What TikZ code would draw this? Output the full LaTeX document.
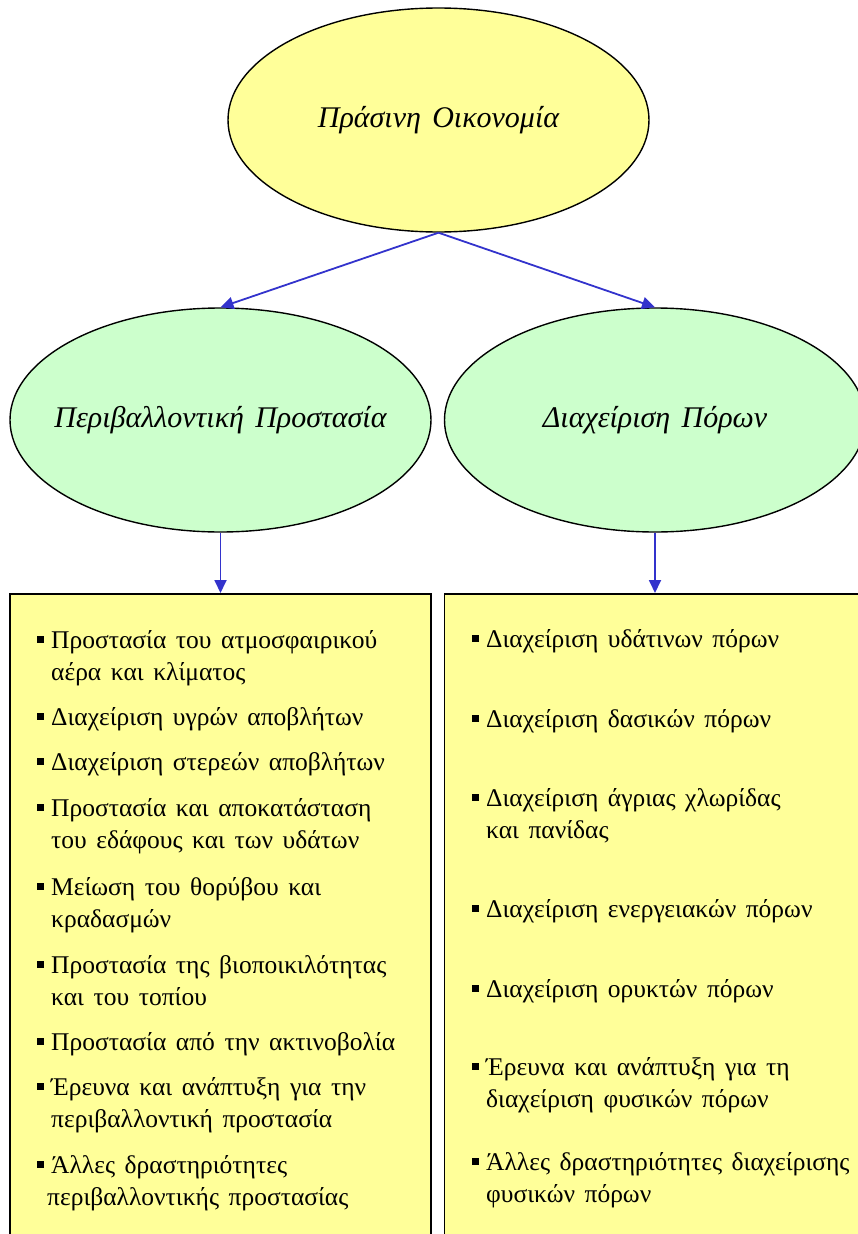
\documentclass[tikz,border=0pt]{standalone}
\usepackage{fontspec}
\setmainfont{Liberation Serif}[WordSpace=1.5]
\usepackage{tikz}
\usetikzlibrary{arrows.meta,shapes.geometric}

\definecolor{pYellow}{RGB}{255,255,153}
\definecolor{pGreen}{RGB}{204,255,204}
\definecolor{pBlue}{RGB}{51,51,204}

% small black square in front of each entry
\newcommand{\sqbul}{\makebox[0pt][r]{\rule[5pt]{7pt}{7pt}\hspace{7pt}}}

\begin{document}
\begin{tikzpicture}[x=1pt, y=-1pt,
    oval/.style={ellipse, draw=black, line width=1.4pt, minimum width=421pt,
      minimum height=224pt, inner xsep=-60pt, inner ysep=0pt,
      font=\fontsize{30}{34}\selectfont\itshape},
    listbox/.style={rectangle, draw=black, line width=1.6pt, fill=pYellow,
      minimum width=421pt, minimum height=700pt, anchor=north, inner sep=0pt},
    entry/.style={anchor=base west, inner sep=0pt, align=left,
      font=\fontsize{25.5}{32}\selectfont},
    flow/.style={pBlue, line width=1.8pt, -{Triangle[length=13pt,width=12pt]}}]
    \clip (0,0) rectangle (858,1234);

    % top level
    \node[oval, fill=pYellow] (green) at (438.5,120) {Πράσινη Οικονομία};

    % two branches
    \node[oval, fill=pGreen] (envprot) at (220.5,420) {Περιβαλλοντική Προστασία};
    \node[oval, fill=pGreen] (resmgmt) at (655,420) {Διαχείριση Πόρων};

    \draw[flow] (green.south) -- (envprot.north);
    \draw[flow] (green.south) -- (resmgmt.north);

    % the two lists
    \node[listbox] (envbox) at (220.5,593) {};
    \node[listbox] (resbox) at (655,593) {};

    \draw[flow] (envprot.south) -- (envbox.north);
    \draw[flow] (resmgmt.south) -- (resbox.north);

    % entries, left list (two-line entries sit on their last baseline)
    \node[entry] (e1) at (51,680) {\sqbul Προστασία του ατμοσφαιρικού\\αέρα και κλίματος};
    \node[entry] (e2) at (51,725) {\sqbul Διαχείριση υγρών αποβλήτων};
    \node[entry] (e3) at (51,770) {\sqbul Διαχείριση στερεών αποβλήτων};
    \node[entry] (e4) at (51,848) {\sqbul Προστασία και αποκατάσταση\\του εδάφους και των υδάτων};
    \node[entry] (e5) at (51,927) {\sqbul Μείωση του θορύβου και\\κραδασμών};
    \node[entry] (e6) at (51,1005) {\sqbul Προστασία της βιοποικιλότητας\\και του τοπίου};
    \node[entry] (e7) at (51,1050) {\sqbul Προστασία από την ακτινοβολία};
    \node[entry] (e8) at (51,1127) {\sqbul Έρευνα και ανάπτυξη για την\\περιβαλλοντική προστασία};
    \node[entry] (e9) at (51,1205) {\sqbul Άλλες δραστηριότητες\\\hspace*{-4pt}περιβαλλοντικής προστασίας};

    % entries, right list
    \node[entry] (r1) at (486,647) {\sqbul Διαχείριση υδάτινων πόρων};
    \node[entry] (r2) at (486,727) {\sqbul Διαχείριση δασικών πόρων};
    \node[entry] (r3) at (486,838) {\sqbul Διαχείριση άγριας χλωρίδας\\και πανίδας};
    \node[entry] (r4) at (486,917) {\sqbul Διαχείριση ενεργειακών πόρων};
    \node[entry] (r5) at (486,997) {\sqbul Διαχείριση ορυκτών πόρων};
    \node[entry] (r6) at (486,1107) {\sqbul Έρευνα και ανάπτυξη για τη\\διαχείριση φυσικών πόρων};
    \node[entry] (r7) at (486,1202) {\sqbul Άλλες δραστηριότητες διαχείρισης\\φυσικών πόρων};
\end{tikzpicture}
\end{document}
